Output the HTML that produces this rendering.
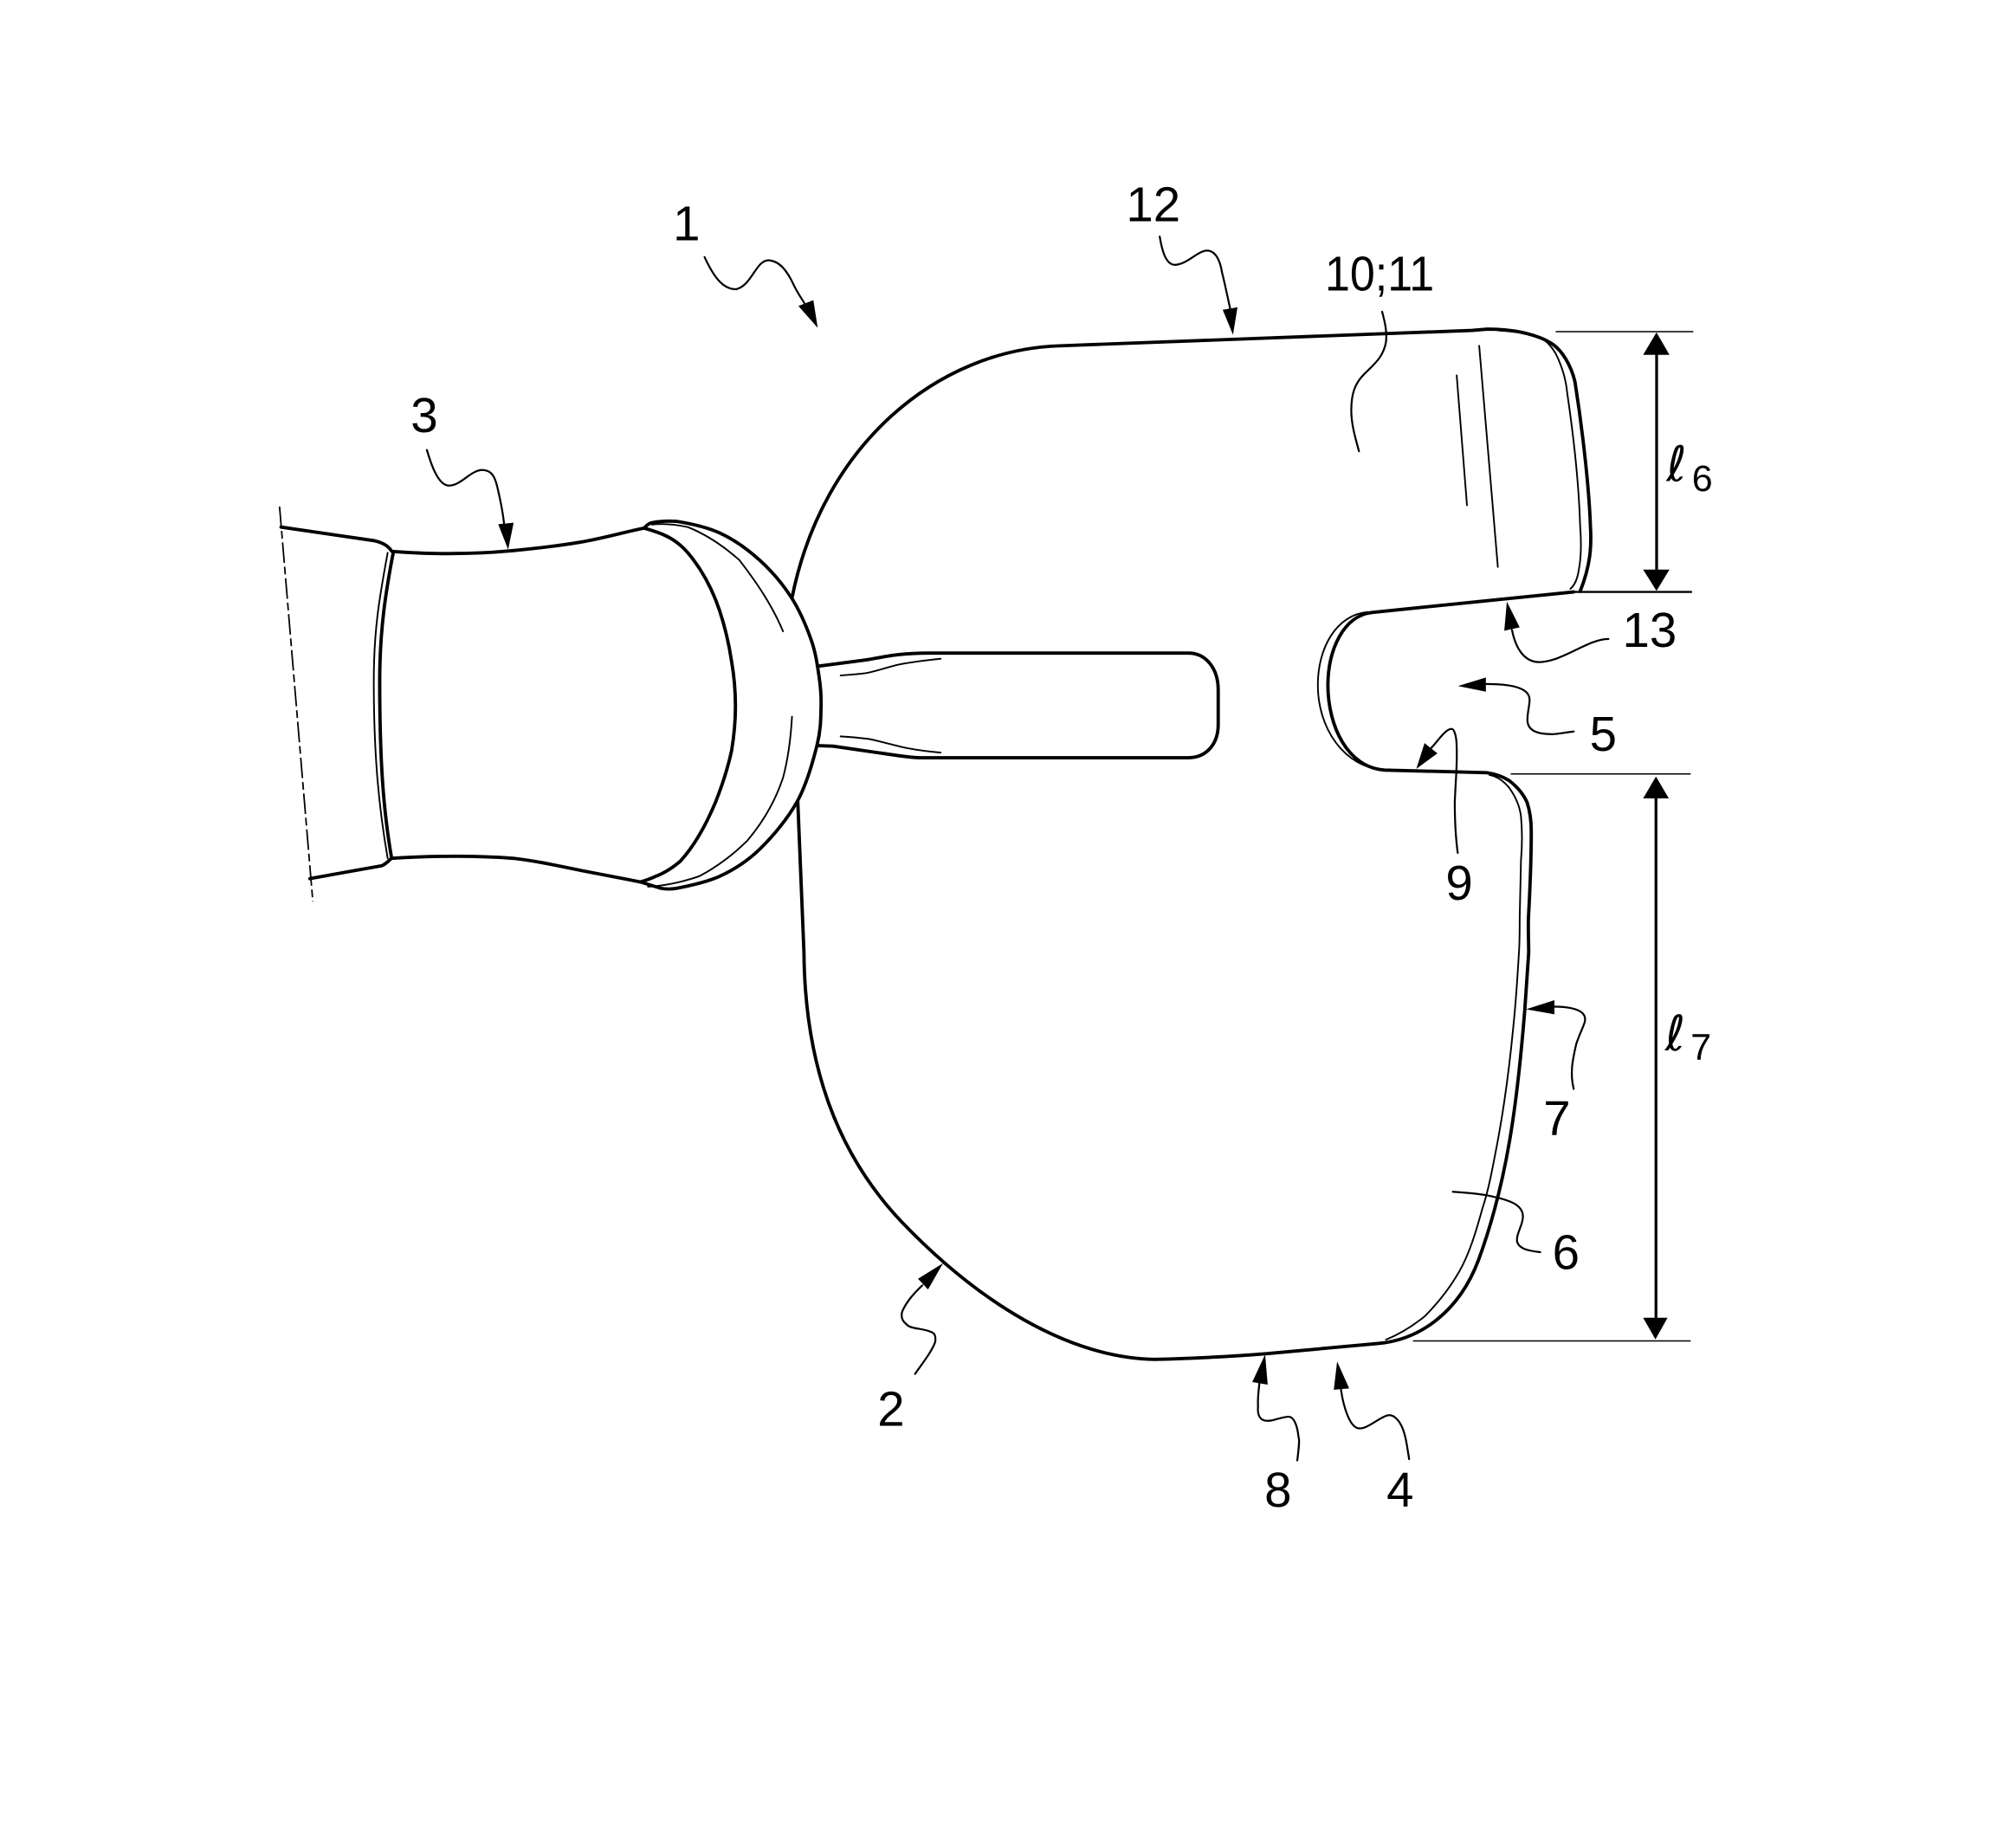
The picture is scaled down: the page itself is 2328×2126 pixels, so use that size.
<!DOCTYPE html>
<html lang="en">
<head>
<meta charset="utf-8">
<title>Patent figure</title>
<style>
html,body{margin:0;padding:0;background:#fff;width:2328px;height:2126px;overflow:hidden}
svg{display:block}
text{font-family:"Liberation Sans",sans-serif;font-size:38px;fill:#000;text-anchor:middle}
.m{fill:none;stroke:#000;stroke-width:2.6;stroke-linecap:round;stroke-linejoin:round}
.t{fill:none;stroke:#000;stroke-width:1.3;stroke-linecap:round}
.l{fill:none;stroke:#000;stroke-width:1.5;stroke-linecap:round}
.a{fill:#000;stroke:none}
</style>
</head>
<body>
<svg width="2328" height="2126" viewBox="0 0 1568 1432" xmlns="http://www.w3.org/2000/svg">
<rect width="1568" height="1432" fill="#fff"/>

<!-- main body outline -->
<path class="m" d="M616,465 C640,345 730,272 824,269 L1145,257 L1157,256 C1180,256 1198,261 1208,268 C1215,273 1222,284 1225,297 C1231,335 1236,380 1237,409 C1238,425 1237,440 1229,460"/>
<path class="t" d="M1165,257 C1178,258 1189,259 1198,262.5 C1203,265 1207,270 1210,275 C1215,285 1218,295 1219,306 C1224,340 1228,375 1229,409 C1230,422 1230,433 1228,443 C1227,450 1225,455 1221.4,458"/>
<path class="m" d="M1224,460.4 L1067,476.4 C1045,479 1033,505 1032.8,533 C1033,565 1048,597 1077,599 L1156.2,601 C1163,602 1169,604 1174,607.3 C1180,612 1185,618 1187.7,624 C1190,631 1191,639 1191,646.6 C1191,670 1190,692 1188.8,714 C1188.5,724 1189,732 1189,741 L1186,785 C1180,860 1172,920 1150,980 C1135,1020 1105,1042 1072,1045 L984.5,1053 C960,1055 930,1056.5 898,1057.4 C830,1056 760,1012 700.5,949.6 C652,898 626,830 625.3,741 L620.5,623.5"/>
<!-- notch double line -->
<path class="t" d="M1064,476 C1040,478 1025,503 1025,533 C1025,566 1045,597 1077,599"/>
<path class="t" d="M1158.5,602.8 C1165,604 1170,608 1174,613 C1179,620 1182,627 1183,635 C1184,646 1184,658 1183,669 L1182,714 C1182,725 1182,733 1181.4,741 C1180,765 1179,780 1177,799 C1174,830 1170,860 1165,887 C1161,908 1158,925 1153,940 C1148,958 1143,975 1135,989 C1127,1003 1118,1014 1108,1024 C1098,1032 1088,1038 1078,1042"/>

<!-- tab lines -->
<path class="t" d="M1150.5,269 L1165,441"/>
<path class="t" d="M1133,292 L1141,393"/>

<!-- handle -->
<path class="m" d="M218.6,410 L290.7,420.5 C297,422 301.5,424 304.6,428.7"/>
<path class="m" d="M241,683.4 L297,673.4 C300,672 302,670 304,668"/>
<path class="m" d="M306,429 C321,430 337,431 352.5,430.5 C367,430.5 380,430 394.3,428.7 C410.8,427.2 433.7,424.7 451.5,421.7 C469.3,418.7 485,414 501,410.8 C503,408.5 505,407 507,406.6 C513,405.3 519,405.2 526,405.5 C534.8,406.9 549.2,409.7 560,414.7 C570.8,419.7 581.5,427.3 590.7,435.6 C599.9,443.9 608.7,454.2 615.4,464.6 C622.1,475 627.4,487.8 631,498 C634.6,508.2 635.7,517.5 637,526 C638.3,534.5 638.85,540 638.6,549 C638.35,558 638.6,567 635.5,579.5 C632.4,592 627.5,610 620,623.5 C612.5,637 600.7,651 590.7,660.7 C580.7,670.4 570.8,676.5 560,681.5 C549.2,686.5 533.8,689.5 526,691 C521,691.8 517,691.6 513.4,690.8 L498,686 C483,683 469,680.4 451.5,677 C434,673.4 416,669.5 399,667.6 C370,665.5 340,665.5 304.6,667.6"/>
<path class="m" d="M306,429 C300,460 295.3,490 295.3,530 C295.3,590 298,630 304.6,667.6"/>
<path class="t" d="M301.5,430 C295,465 290.7,490 290.7,530 C290.7,590 295,630 301.5,667.6"/>
<path class="m" d="M501,410.8 C512,414 521,417 529,424 C535,429 540,436 544.3,442.6 C551,453 556,464 559.7,475 C564,488 567,501 569,514.5 C571,526 572,537 572,549.3 C572,561 571,572 569,584 C566,598 562,610 556.7,623.5 C549,642 540,658 529,670 C523,675 517,679 510.3,681.5 C506,683.5 502,685 498,686"/>
<path class="t" d="M507,408 C517,407 526,408 535,410 C550,416 563,425 575,435.6 C590,455 601,472 609,491"/>
<path class="t" d="M616,557.4 C615,575 613,590 609,605 C603,623 593,640 581.4,653.7 C570,665 558,674 544,681.5 C531,686 518,689 504,689.7"/>
<path d="M217.4,394 L243.3,701.3" fill="none" stroke="#000" stroke-width="1.2" stroke-dasharray="16,3,6,3"/>

<!-- stem -->
<path class="m" d="M636.4,518.2 L673.6,513.3 C682,512 691,510 699,509.2 C706,508.4 714,508 722.3,508 L924.3,508 C938,508 947.5,520 947.5,536.6 L947.5,563.6 C947.5,579 938,589.4 924.3,589.4 L715.3,589.4 C709,589.2 704,588.5 699,587.8 L648,580.4 L636.4,580"/>
<path class="t" d="M653.8,525.4 C660,525 667,524.5 673.5,523.6 C682,522 690,519 699,516.9 C710,514.8 720,513.6 731.6,512.4"/>
<path class="t" d="M653.8,572.8 C661,573.2 668,573.8 675.9,574.8 C686,576.8 696,580 706,582 C714,583.5 722,584.6 731.6,585.4"/>

<!-- dimension lines -->
<path d="M1210,258 H1317" stroke="#000" stroke-width="1" fill="none"/>
<path d="M1224,460.4 H1316" stroke="#000" stroke-width="1.6" fill="none"/>
<path d="M1175,602 H1315" stroke="#000" stroke-width="1" fill="none"/>
<path d="M1099,1043 H1315" stroke="#000" stroke-width="1" fill="none"/>
<path d="M1288.5,270 V450" stroke="#000" stroke-width="2.2" fill="none"/>
<path d="M1288,615 V1030" stroke="#000" stroke-width="2.2" fill="none"/>
<polygon class="a" points="1288.4,258.6 1278,276 1298.5,276"/>
<polygon class="a" points="1288.4,459.6 1278,443 1298.5,443"/>
<polygon class="a" points="1288,604 1278,621 1298,621"/>
<polygon class="a" points="1287.6,1041.8 1278,1025 1297,1025"/>

<!-- leaders -->
<path class="l" d="M548,200 C555,215 562,225 572.5,225 C585,222 588,202 598,202.5 C607,203 613,212 617.5,222 C621,229 624,233 627,238"/>
<polygon class="a" points="636,255 621,238 632.6,233.5"/>
<path class="l" d="M902,184 C904,196 907,206 914,206 C925,205 932,194 940,195 C946,196 949,203 950.5,212 C953,222 955,232 957,241"/>
<polygon class="a" points="959,260.4 951,241 962.5,239"/>
<path class="l" d="M1075,242.5 C1077,250 1079,258 1078,266 C1076,278 1068,284 1061,291 C1054,298 1051,306 1051,319 C1051,330 1054,340 1057,351"/>
<path class="l" d="M332,350 C335,360 340,376 348,377.6 C358,379 366,365 375.7,365.6 C383,366 385,372 386.5,377.6 C389,388 391,398 392,407"/>
<polygon class="a" points="395.2,427.5 387.5,407.8 399.5,406.6"/>
<path class="l" d="M1251,497 C1235,497 1215,515 1197,515 C1186,515 1179,505 1176,490"/>
<polygon class="a" points="1172,468 1170,490.6 1182,488"/>
<path class="l" d="M1224,569 C1215,570 1210,571.5 1206,571 C1195,571 1188,568 1188,560 C1188,552 1191,545 1189,541 C1186,534 1172,532 1156,532"/>
<polygon class="a" points="1134,533.6 1155.7,527 1155.7,538"/>
<path class="l" d="M1133.8,663.4 C1132,650 1131.5,637 1131.5,624 C1132,610 1133.5,595 1133,582 C1133,572 1131,567 1129,567 C1124,567 1118,577 1113,582"/>
<polygon class="a" points="1101.6,598 1108,578 1118,586"/>
<path class="l" d="M1224,847 C1221,835 1223,825 1226,812 C1230,800 1234,795 1232.6,791 C1231,785 1220,783 1209,783"/>
<polygon class="a" points="1187,785 1209,778 1209,789"/>
<path class="l" d="M1130,927 C1145,928 1155,929 1162,931 C1176,934 1185,938 1184.5,947 C1184,954 1179,960 1180,966 C1182,972 1190,973 1198,974"/>
<path class="l" d="M1009,1136 C1010,1128 1011,1120 1010,1118 C1009,1108 1006,1102 1002.5,1102 C996,1102 990,1106 984,1105 C979,1104 978,1099 978.5,1094 C978,1088 979,1082 979.5,1076"/>
<polygon class="a" points="984,1053.5 974,1075 986,1077"/>
<path class="l" d="M1096,1135 C1094,1122 1093,1115 1090,1109 C1087,1103 1083,1100 1079,1101 C1072,1103 1063,1112 1056.6,1111 C1050,1110 1045,1095 1043,1081"/>
<polygon class="a" points="1040,1059 1037.4,1081 1049.4,1080"/>
<path class="l" d="M711.7,1068.7 C717,1061 725,1051 727.4,1043.7 C728,1039 727,1037 724,1036 C718,1033 708,1034 705,1030 C701,1027 701,1023 701.6,1020.5 C705,1012 712,1005 717.3,999.9"/>
<polygon class="a" points="733.5,982.6 714,994.7 721.8,1003"/>

<!-- labels -->
<text x="534" y="187">1</text>
<text x="897" y="172">12</text>
<text x="1073" y="226" textLength="85" lengthAdjust="spacingAndGlyphs">10;11</text>
<text x="330" y="336">3</text>
<text x="1283" y="503">13</text>
<text x="1247" y="584">5</text>
<text x="1135" y="700">9</text>
<text x="1211" y="883">7</text>
<text x="1218" y="987">6</text>
<text x="994" y="1172">8</text>
<text x="1089" y="1172">4</text>
<text x="693" y="1109">2</text>
<text x="1304" y="374" style="font-family:'DejaVu Sans',sans-serif;font-size:38px">ℓ</text>
<text x="1324" y="382" style="font-size:29px">6</text>
<text x="1303" y="817" style="font-family:'DejaVu Sans',sans-serif;font-size:38px">ℓ</text>
<text x="1323" y="824" style="font-size:29px">7</text>
</svg>
</body>
</html>
